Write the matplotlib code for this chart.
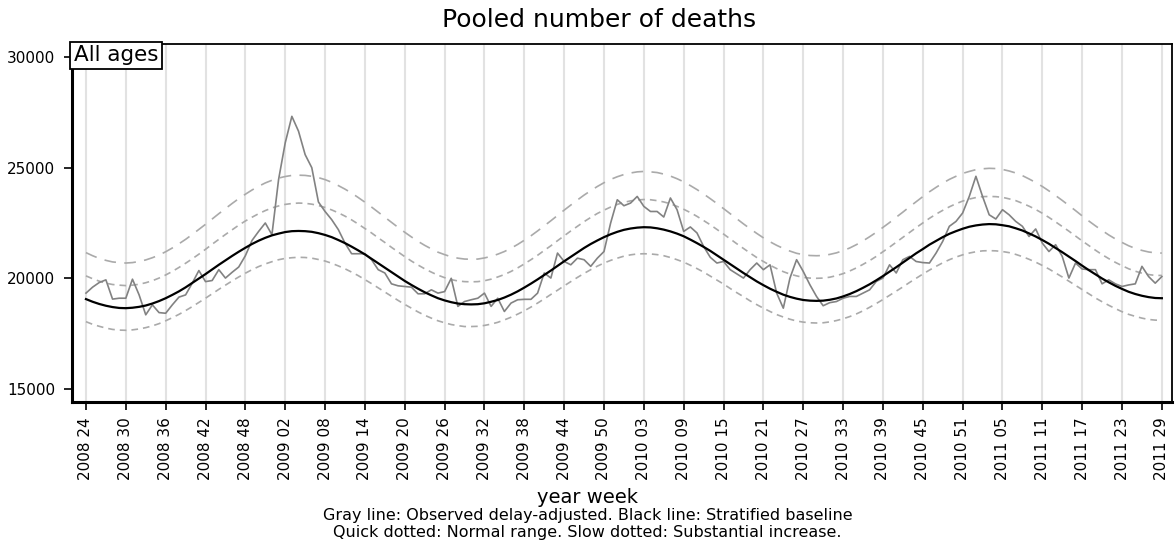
import matplotlib
matplotlib.use('Agg')
import matplotlib.pyplot as plt

# year/week categories on the x axis (ISO weeks, 2009 has 53)
years = [2008, 2009, 2010, 2011]
first_week = [24, 1, 1, 1]
last_week = [52, 53, 52, 29]

observed = [19330, 19600, 19810, 19930, 19060, 19100, 19100, 19960, 19250, 18350,
            18800, 18450, 18420, 18800, 19150, 19250, 19780, 20350, 19850, 19900,
            20390, 20010, 20270, 20510, 21020, 21710, 22120, 22500, 21970, 24460,
            26120, 27320, 26650, 25590, 25000, 23450, 23020, 22650, 22200, 21590,
            21110, 21110, 21110, 20840, 20390, 20240, 19750, 19660, 19630, 19600,
            19300, 19300, 19480, 19330, 19400, 20000, 18730, 18950, 19030, 19100,
            19330, 18730, 19100, 18500, 18880, 19030, 19050, 19050, 19330, 20240,
            20010, 21140, 20760, 20610, 20910, 20840, 20540, 20910, 21210, 22500,
            23550, 23280, 23400, 23700, 23250, 23020, 23020, 22770, 23630, 23100,
            22120, 22320, 22050, 21440, 20950, 20690, 20760, 20390, 20200, 20010,
            20390, 20690, 20390, 20610, 19330, 18650, 20010, 20840, 20310, 19710,
            19180, 18760, 18900, 18950, 19100, 19180, 19180, 19330, 19480, 19860,
            20010, 20610, 20240, 20840, 20990, 20760, 20710, 20690, 21140, 21670,
            22350, 22570, 22950, 23700, 24610, 23700, 22870, 22680, 23100, 22870,
            22570, 22350, 21890, 22230, 21590, 21210, 21520, 20990, 20010, 20690,
            20420, 20390, 20390, 19750, 19930, 19750, 19630, 19700, 19750, 20540,
            20080, 19780, 20080]

baseline = [19060, 18940, 18840, 18760, 18700, 18660, 18650, 18670, 18710, 18770,
            18860, 18970, 19100, 19250, 19410, 19590, 19790, 19990, 20190, 20400,
            20610, 20810, 21010, 21200, 21380, 21550, 21700, 21830, 21940, 22020,
            22090, 22130, 22140, 22130, 22100, 22040, 21960, 21860, 21730, 21590,
            21430, 21260, 21080, 20880, 20680, 20480, 20280, 20080, 19880, 19700,
            19530, 19370, 19230, 19100, 19000, 18920, 18860, 18830, 18820, 18830,
            18870, 18940, 19020, 19130, 19260, 19410, 19580, 19760, 19950, 20150,
            20350, 20560, 20770, 20970, 21170, 21370, 21550, 21710, 21860, 21990,
            22100, 22190, 22250, 22290, 22310, 22300, 22260, 22200, 22120, 22020,
            21900, 21750, 21590, 21420, 21240, 21040, 20840, 20640, 20440, 20240,
            20050, 19860, 19690, 19530, 19390, 19260, 19160, 19080, 19020, 18990,
            18980, 18990, 19030, 19090, 19180, 19290, 19420, 19570, 19730, 19910,
            20100, 20300, 20500, 20710, 20920, 21130, 21320, 21520, 21690, 21860,
            22010, 22130, 22240, 22330, 22390, 22430, 22450, 22440, 22400, 22350,
            22260, 22160, 22030, 21890, 21730, 21560, 21370, 21180, 20980, 20780,
            20570, 20370, 20180, 19990, 19820, 19660, 19520, 19390, 19290, 19210,
            19150, 19110, 19100]

normal_upper = [20110, 19980, 19870, 19780, 19720, 19690, 19670, 19690, 19730, 19800,
                19890, 20010, 20150, 20310, 20490, 20680, 20880, 21090, 21310, 21540,
                21760, 21980, 22190, 22400, 22590, 22760, 22920, 23060, 23180, 23270,
                23340, 23380, 23400, 23390, 23350, 23290, 23200, 23090, 22960, 22810,
                22640, 22450, 22250, 22050, 21830, 21620, 21400, 21190, 20980, 20780,
                20600, 20430, 20280, 20140, 20030, 19940, 19880, 19850, 19840, 19850,
                19890, 19960, 20060, 20170, 20310, 20470, 20650, 20840, 21040, 21260,
                21470, 21700, 21920, 22140, 22350, 22560, 22750, 22930, 23080, 23220,
                23340, 23430, 23500, 23540, 23560, 23550, 23510, 23450, 23370, 23250,
                23120, 22970, 22800, 22610, 22420, 22210, 22000, 21780, 21560, 21350,
                21140, 20940, 20760, 20590, 20440, 20300, 20190, 20110, 20040, 20010,
                20000, 20010, 20050, 20120, 20210, 20330, 20470, 20630, 20800, 20990,
                21200, 21410, 21630, 21850, 22070, 22290, 22500, 22710, 22900, 23070,
                23230, 23370, 23490, 23580, 23650, 23690, 23700, 23690, 23660, 23590,
                23510, 23390, 23260, 23110, 22940, 22750, 22550, 22340, 22130, 21910,
                21690, 21480, 21270, 21070, 20890, 20720, 20570, 20430, 20320, 20230,
                20170, 20130, 20130]

normal_lower = [18040, 17920, 17830, 17750, 17690, 17660, 17650, 17670, 17710, 17770,
                17850, 17950, 18080, 18220, 18370, 18540, 18720, 18910, 19100, 19300,
                19500, 19690, 19880, 20060, 20230, 20390, 20530, 20650, 20750, 20840,
                20900, 20930, 20950, 20940, 20910, 20850, 20780, 20680, 20560, 20430,
                20280, 20120, 19940, 19760, 19570, 19380, 19190, 19000, 18820, 18650,
                18480, 18330, 18200, 18080, 17990, 17910, 17860, 17820, 17820, 17830,
                17870, 17930, 18010, 18120, 18240, 18380, 18530, 18700, 18880, 19070,
                19270, 19460, 19660, 19850, 20040, 20220, 20390, 20550, 20690, 20810,
                20910, 21000, 21060, 21100, 21110, 21100, 21070, 21020, 20940, 20840,
                20730, 20590, 20440, 20280, 20100, 19920, 19740, 19540, 19350, 19170,
                18980, 18810, 18650, 18500, 18360, 18250, 18150, 18070, 18020, 17990,
                17980, 17990, 18030, 18090, 18170, 18270, 18390, 18530, 18690, 18860,
                19040, 19230, 19420, 19610, 19810, 20000, 20190, 20370, 20540, 20700,
                20840, 20960, 21060, 21140, 21200, 21240, 21250, 21240, 21210, 21160,
                21080, 20980, 20860, 20730, 20580, 20420, 20240, 20060, 19870, 19680,
                19490, 19300, 19110, 18940, 18780, 18630, 18490, 18370, 18280, 18200,
                18140, 18110, 18100]

substantial = [21160, 21020, 20900, 20810, 20740, 20710, 20690, 20710, 20760, 20830,
               20930, 21050, 21200, 21370, 21560, 21760, 21980, 22210, 22440, 22680,
               22920, 23150, 23380, 23600, 23800, 23990, 24160, 24310, 24430, 24530,
               24600, 24650, 24660, 24650, 24610, 24550, 24460, 24340, 24190, 24030,
               23850, 23650, 23440, 23220, 22990, 22760, 22530, 22300, 22080, 21870,
               21670, 21490, 21330, 21180, 21070, 20970, 20910, 20870, 20860, 20870,
               20920, 20990, 21090, 21210, 21360, 21530, 21720, 21920, 22140, 22370,
               22600, 22840, 23080, 23310, 23540, 23760, 23960, 24150, 24320, 24470,
               24590, 24690, 24760, 24810, 24830, 24810, 24780, 24710, 24620, 24500,
               24360, 24190, 24010, 23810, 23600, 23380, 23150, 22920, 22690, 22460,
               22240, 22030, 21830, 21650, 21490, 21350, 21230, 21130, 21070, 21030,
               21020, 21030, 21080, 21150, 21250, 21370, 21520, 21690, 21880, 22080,
               22300, 22520, 22760, 22990, 23230, 23460, 23690, 23910, 24110, 24300,
               24470, 24610, 24740, 24830, 24910, 24950, 24970, 24960, 24920, 24850,
               24760, 24640, 24490, 24330, 24150, 23950, 23740, 23520, 23290, 23060,
               22820, 22590, 22370, 22160, 21960, 21780, 21620, 21470, 21350, 21260,
               21190, 21150, 21140]

yticks = [15000, 20000, 25000, 30000]

labels = []
for y, w0, w1 in zip(years, first_week, last_week):
    for w in range(w0, w1 + 1):
        labels.append('%d %02d' % (y, w))
x = list(range(len(labels)))

fig = plt.figure(figsize=(11.75, 5.47), dpi=100)
ax = fig.add_axes([0.0613, 0.2651, 0.936, 0.6545])

band_col = '#aaaaaa'
ax.plot(x, substantial, color=band_col, lw=1.2, dashes=(7, 5))
ax.plot(x, normal_upper, color=band_col, lw=1.2, dashes=(4, 3))
ax.plot(x, normal_lower, color=band_col, lw=1.2, dashes=(4, 3))
ax.plot(x, observed, color='#828282', lw=1.2)
ax.plot(x, baseline, color='black', lw=1.6)

ax.set_xlim(-2.1, 163.5)
ax.set_ylim(14410, 30590)
tick_pos = x[::6]
ax.set_xticks(tick_pos)
ax.set_xticklabels([labels[i] for i in tick_pos], rotation=90, fontsize=11)
ax.set_yticks(yticks)
ax.set_yticklabels([str(v) for v in yticks], fontsize=11)
ax.tick_params(axis='both', direction='out', length=6, width=1.2, colors='black')
ax.tick_params(axis='y', pad=6)
ax.tick_params(axis='x', pad=5)
ax.grid(axis='x', color='#e2e2e2', lw=1.5)
ax.set_axisbelow(True)

for side in ['left', 'bottom']:
    ax.spines[side].set_linewidth(2.2)
for side in ['top', 'right']:
    ax.spines[side].set_linewidth(1.3)

ax.text(0.0015, 0.996, 'All ages', transform=ax.transAxes, ha='left', va='top',
        fontsize=15.5,
        bbox=dict(boxstyle='square,pad=0.16', fc='white', ec='black', lw=1.3))

fig.text(0.51, 0.963, 'Pooled number of deaths', ha='center', va='center', fontsize=18)
fig.text(0.5, 0.0896, 'year week', ha='center', va='center', fontsize=14)
fig.text(0.5, 0.0567, 'Gray line: Observed delay-adjusted. Black line: Stratified baseline',
         ha='center', va='center', fontsize=11.5)
fig.text(0.5, 0.0256, 'Quick dotted: Normal range. Slow dotted: Substantial increase.',
         ha='center', va='center', fontsize=11.5)

fig.savefig('out.png', dpi=100)
